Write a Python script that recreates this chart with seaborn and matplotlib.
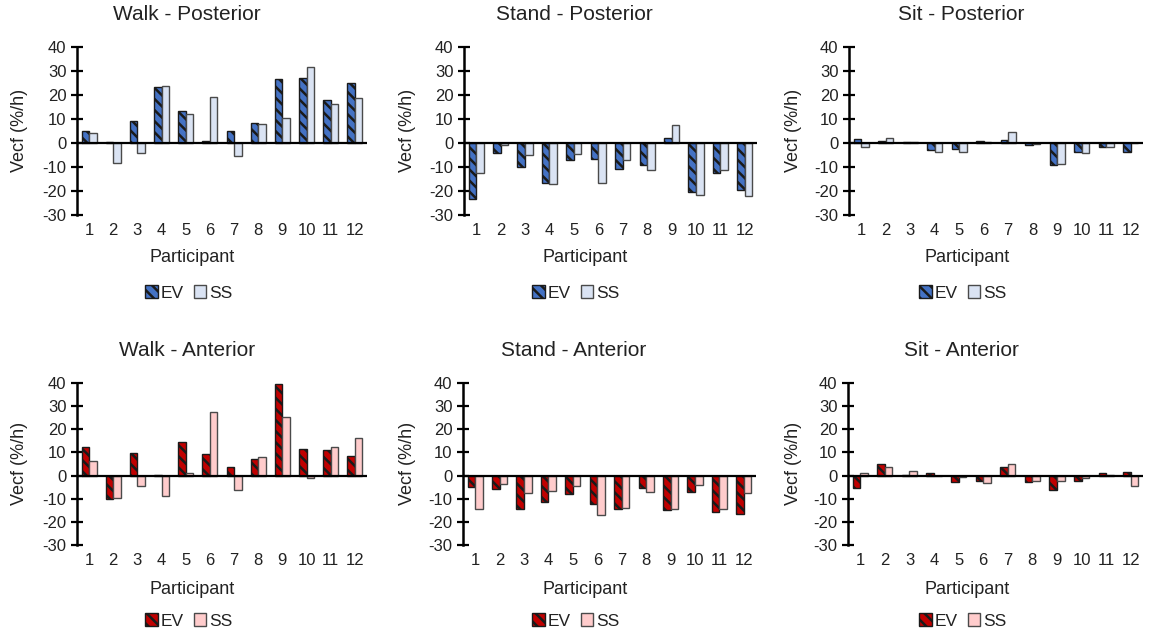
import matplotlib
matplotlib.use("Agg")
import matplotlib.pyplot as plt
import seaborn as sns
import pandas as pd

participants = [str(i) for i in range(1, 13)]
series_names = ["EV", "SS"]

walk_post_ev = [5.0, 0.5, 9.0, 23.2, 13.2, 1.0, 4.9, 8.3, 26.8, 27.2, 18.0, 25.0]
walk_post_ss = [4.2, -8.3, -4.0, 23.9, 12.0, 19.0, -5.5, 8.1, 10.4, 31.7, 16.1, 18.6]
stand_post_ev = [-23.2, -4.0, -10.0, -16.7, -7.2, -6.5, -10.7, -9.3, 2.1, -20.6, -12.5, -19.4]
stand_post_ss = [-12.5, -0.8, -5.1, -17.0, -4.4, -16.8, -6.9, -11.1, 7.6, -21.5, -11.4, -21.9]
sit_post_ev = [1.7, 1.0, 0.3, -3.0, -2.5, 0.8, 1.4, -0.8, -9.1, -3.9, -1.7, -3.7]
sit_post_ss = [-1.8, 2.1, 0.3, -3.9, -3.9, 0.4, 4.4, -0.6, -8.6, -4.3, -1.7, 0.0]
walk_ant_ev = [12.2, -10.3, 9.6, 0.3, 14.3, 9.3, 3.5, 7.3, 39.7, 11.5, 11.1, 8.4]
walk_ant_ss = [6.3, -9.7, -4.7, -8.7, 1.3, 27.6, -6.3, 8.0, 25.3, -1.0, 12.4, 16.3]
stand_ant_ev = [-5.1, -5.8, -14.3, -11.3, -8.0, -12.4, -14.5, -5.2, -15.0, -7.3, -15.7, -16.4]
stand_ant_ss = [-14.5, -3.6, -7.7, -6.7, -4.4, -16.9, -13.8, -7.0, -14.5, -4.1, -14.5, -7.7]
sit_ant_ev = [-5.4, 4.8, 0.4, 1.0, -2.8, -2.2, 3.8, -2.9, -6.4, -2.5, 1.2, 1.6]
sit_ant_ss = [0.9, 3.6, 1.9, 0.0, -0.7, -3.2, 4.8, -2.2, -2.5, -1.0, 0.4, -4.7]

titles = ["Walk - Posterior", "Stand - Posterior", "Sit - Posterior",
          "Walk - Anterior", "Stand - Anterior", "Sit - Anterior"]
panel_values = [
    (walk_post_ev, walk_post_ss), (stand_post_ev, stand_post_ss), (sit_post_ev, sit_post_ss),
    (walk_ant_ev, walk_ant_ss), (stand_ant_ev, stand_ant_ss), (sit_ant_ev, sit_ant_ss),
]
y_ticks = [-30, -20, -10, 0, 10, 20, 30, 40]

blue_palette = {"EV": "#4472C4", "SS": "#DAE3F3"}
red_palette = {"EV": "#C00000", "SS": "#FFCCCC"}

sns.set_theme(style="white")
plt.rcParams["font.family"] = ["Liberation Sans", "DejaVu Sans"]
plt.rcParams["axes.unicode_minus"] = False
plt.rcParams["hatch.linewidth"] = 1.8
text_color = "#222222"

W, H = 1151, 636
fig = plt.figure(figsize=(W / 100, H / 100), dpi=100)

# axes boxes in pixels: (left, top, right, bottom)
boxes = [
    (77, 47, 367, 215), (464, 47, 757, 215), (849, 47, 1143, 215),
    (77, 383, 367, 545), (463, 383, 756, 545), (848, 383, 1143, 545),
]
title_pos = [(187, 15), (574, 15), (961, 15), (187, 351), (574, 351), (961, 351)]
xlabel_pos = [(192, 257), (585, 257), (967, 257), (192, 590), (585, 590), (967, 590)]
legend_pos = [(189, 293), (576, 293), (963, 293), (189, 621), (576, 621), (963, 621)]
ylabel_x = [19, 407, 794, 19, 407, 794]

for i, (title, (ev, ss)) in enumerate(zip(titles, panel_values)):
    l, t, r, b = boxes[i]
    ax = fig.add_axes([l / W, 1 - b / H, (r - l) / W, (b - t) / H])
    df = pd.DataFrame({
        "Participant": participants * 2,
        "Series": [series_names[0]] * 12 + [series_names[1]] * 12,
        "Vecf": list(ev) + list(ss),
    })
    pal = blue_palette if i < 3 else red_palette
    sns.barplot(data=df, x="Participant", y="Vecf", hue="Series", order=participants,
                hue_order=series_names, palette=pal, width=0.62, gap=0,
                saturation=1, linewidth=1.0, edgecolor="#4a4a4a", legend=False, ax=ax)
    for bar in ax.containers[0]:
        bar.set_hatch("\\\\\\")
        bar.set_edgecolor("#1a1a1a")

    ax.set_ylim(-30, 40)
    ax.set_xlim(-0.5, 11.5)
    ax.set_yticks(y_ticks)
    ax.set_xlabel("")
    ax.set_ylabel("")
    for side in ["top", "right", "bottom"]:
        ax.spines[side].set_visible(False)
    ax.spines["left"].set_color("black")
    ax.spines["left"].set_linewidth(1.8)
    ax.axhline(0, color="black", lw=1.6, zorder=3)
    ax.tick_params(axis="y", direction="inout", length=9, width=1.6, color="black",
                   labelsize=12, labelcolor=text_color, pad=3, left=True)
    ax.tick_params(axis="x", length=0, labelsize=12, labelcolor=text_color, pad=6)
    ax.set_facecolor("none")

    fig.text(title_pos[i][0] / W, 1 - title_pos[i][1] / H, title, ha="center", va="center",
             fontsize=15, color=text_color)
    fig.text(xlabel_pos[i][0] / W, 1 - xlabel_pos[i][1] / H, "Participant", ha="center",
             va="center", fontsize=13, color=text_color)
    fig.text(ylabel_x[i] / W, 1 - ((t + b) / 2 - 1) / H, "Vecf (%/h)", rotation=90,
             ha="center", va="center", fontsize=13, color=text_color)

    handles = [ax.containers[0][0], ax.containers[1][0]]
    fig.legend(handles, series_names, loc="center",
               bbox_to_anchor=(legend_pos[i][0] / W, 1 - legend_pos[i][1] / H),
               ncol=2, frameon=False, fontsize=12.5, handlelength=0.7, handleheight=0.75,
               handletextpad=0.2, columnspacing=0.55, labelcolor=text_color,
               borderpad=0, borderaxespad=0)

fig.savefig("out.png", dpi=100, facecolor="white")
